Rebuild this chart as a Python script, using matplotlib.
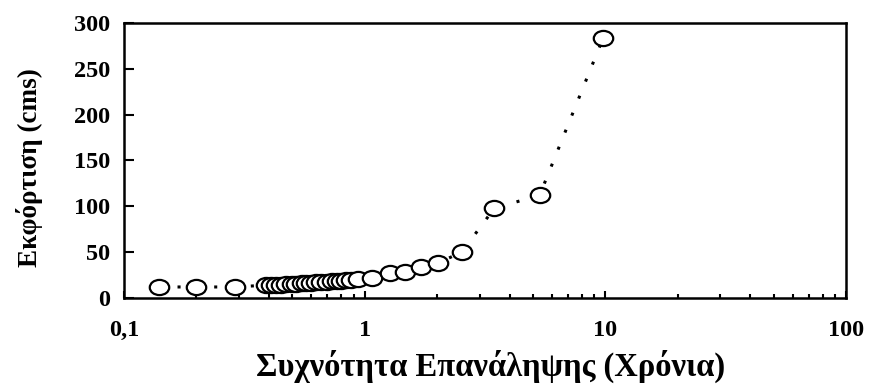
import matplotlib
matplotlib.use("Agg")
import matplotlib.pyplot as plt
from matplotlib.path import Path
from matplotlib.ticker import FixedLocator, FixedFormatter, LogLocator, NullFormatter

# return period (years) and discharge (cms)
period = [0.14, 0.20, 0.29,
          0.39, 0.41, 0.43, 0.45, 0.47, 0.50, 0.52, 0.55, 0.57, 0.60,
          0.63, 0.66, 0.70, 0.73, 0.77, 0.80, 0.84, 0.88, 0.94,
          1.07, 1.27, 1.47, 1.72, 2.01, 2.53, 3.46, 5.33, 9.8]
discharge = [12, 12, 12,
             14, 14, 14.5, 14.5, 15, 15, 15.5, 16, 16, 16.5,
             17, 17, 17.5, 18, 18.5, 19, 19.5, 20, 20.5,
             22, 27, 28, 34, 38, 50, 98, 112, 284]

x_ticks = [0.1, 1, 10, 100]
x_labels = ["0,1", "1", "10", "100"]
y_ticks = [0, 50, 100, 150, 200, 250, 300]

font = "Liberation Serif"

# slightly wide ellipse, the picture is stretched sideways
circ = Path.unit_circle()
ellipse = Path(circ.vertices * [1.0, 0.78], circ.codes)

fig = plt.figure(figsize=(8.74, 3.89), dpi=100)
ax = fig.add_axes([0.1419, 0.234, 0.8261, 0.707])

ax.plot(period, discharge, color="black", linestyle=(0, (1, 5)), linewidth=2.2,
        marker=ellipse, markersize=14, markerfacecolor="white",
        markeredgecolor="black", markeredgewidth=1.6)

ax.set_xscale("log")
ax.set_xlim(0.1, 100)
ax.set_ylim(0, 300)

ax.xaxis.set_major_locator(FixedLocator(x_ticks))
ax.xaxis.set_major_formatter(FixedFormatter(x_labels))
ax.xaxis.set_minor_locator(LogLocator(base=10, subs=range(2, 10)))
ax.xaxis.set_minor_formatter(NullFormatter())
ax.set_yticks(y_ticks)

for s in ax.spines.values():
    s.set_linewidth(1.8)
    s.set_color("black")

ax.tick_params(axis="x", which="major", direction="in", length=5, width=1.5, pad=16)
ax.tick_params(axis="x", which="minor", direction="in", length=3, width=1.5)
ax.tick_params(axis="y", which="major", direction="in", length=7, width=1.5, pad=10)

for lab in ax.get_xticklabels() + ax.get_yticklabels():
    lab.set_fontfamily(font)
    lab.set_fontweight("bold")
    lab.set_fontsize(17.5)

ax.set_xlabel("Συχνότητα Επανάληψης (Χρόνια)", fontfamily=font, fontweight="bold",
              fontsize=23.5)
ax.xaxis.set_label_coords(0.507, -0.19)
ax.set_ylabel("Εκφόρτιση (cms)", fontfamily=font, fontweight="bold", fontsize=19.5)
ax.yaxis.set_label_coords(-0.112, 0.475)

fig.savefig("out.png", dpi=100)
